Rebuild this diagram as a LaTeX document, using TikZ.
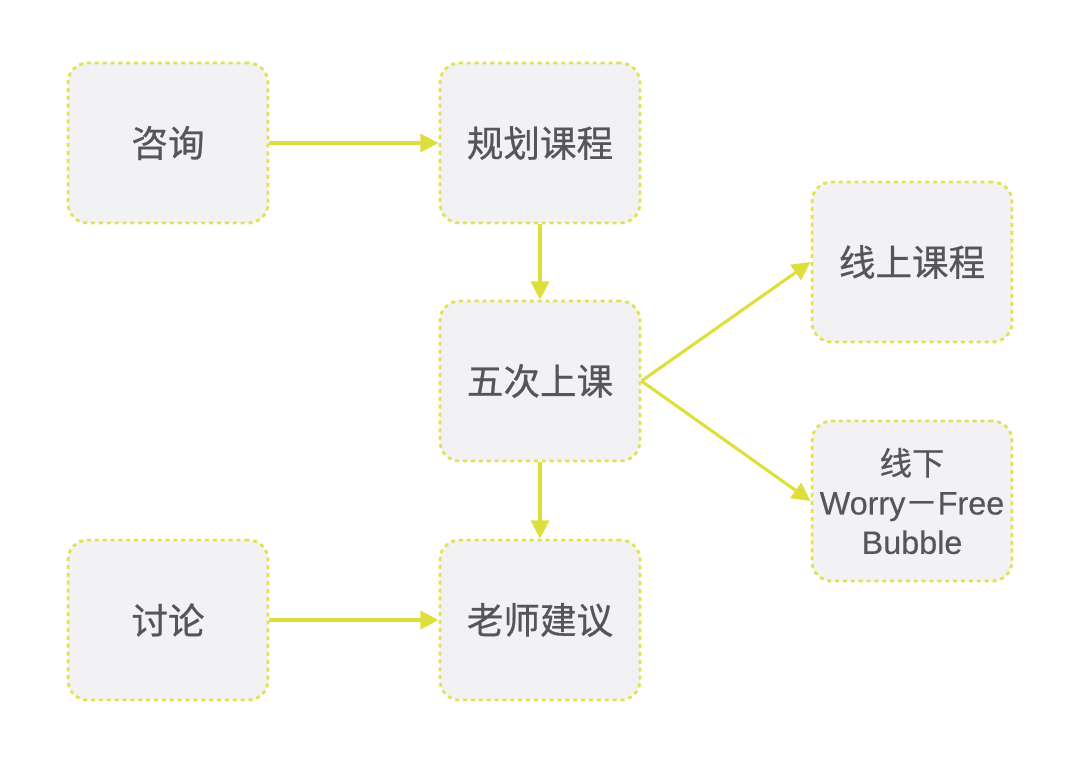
\documentclass[tikz,border=0pt]{standalone}
\usepackage{fontspec}
\setmainfont{Noto Sans CJK SC}[FakeBold=0.6]
\newfontfamily\latinfont{Liberation Sans}[FakeBold=0.4]
\usetikzlibrary{arrows.meta}
\definecolor{boxfill}{RGB}{242,242,244}
\definecolor{boxline}{RGB}{226,226,80}
\definecolor{arrowline}{RGB}{222,222,60}
\definecolor{boxtext}{RGB}{85,85,90}
\tikzset{
 stepbox/.style={shape=rectangle,draw=boxline,fill=boxfill,line width=2pt,
  dash pattern=on 2.8pt off 2.8pt,rounded corners=14pt,
  minimum width=5cm,minimum height=4cm,inner sep=0pt,
  text=boxtext,font=\fontsize{26}{32}\selectfont,align=center},
 flow/.style={draw=arrowline,line width=2.2pt,-{Triangle[length=13pt,width=13pt]}}
}
\begin{document}
\begin{tikzpicture}[x=0.025cm,y=-0.025cm]
 \useasboundingbox (0,0) rectangle (1080,763);
 \node (zixun) at (168,143) [stepbox] {咨询};
 \node (guihua) at (540,143) [stepbox] {规划课程};
 \node (shangke) at (540,381) [stepbox] {五次上课};
 \node (jianyi) at (540,620) [stepbox] {老师建议};
 \node (taolun) at (168,620) [stepbox] {讨论};
 \node (xianshang) at (912,262) [stepbox] {线上课程};
 \node (xianxia) at (912,501) [stepbox,font=\fontsize{23}{28}\selectfont] {线下\\{\latinfont Worry}－{\latinfont Free}\\{\latinfont Bubble}};
 \draw[flow] (zixun) -- (guihua);
 \draw[flow] (guihua) -- (shangke);
 \draw[flow] (shangke) -- (jianyi);
 \draw[flow] (taolun) -- (jianyi);
 \draw[flow] (shangke.east) -- (xianshang.west);
 \draw[flow] (shangke.east) -- (xianxia.west);
 \end{tikzpicture}
\end{document}
